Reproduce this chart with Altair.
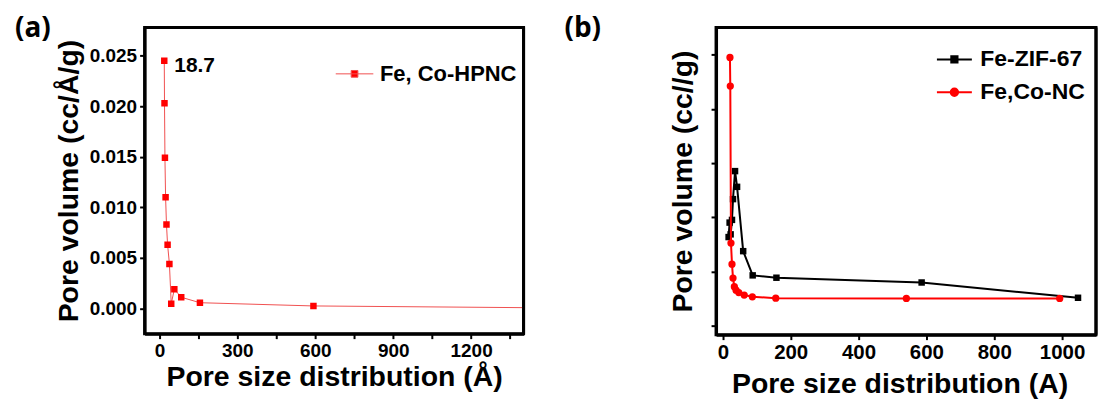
import altair as alt
import pandas as pd

FONT = "Liberation Sans"

# ---------------- data ----------------
panel_labels = ["(a)", "(b)"]

# panel (a): Fe, Co-HPNC
a_series = "Fe, Co-HPNC"
a_x = [18.7, 19.6, 21.3, 23.8, 27.2, 31.5, 38.5, 45.5, 57.5, 84, 156, 593, 1650]
a_y = [0.0245, 0.0203, 0.0149, 0.0110, 0.0083, 0.0063, 0.0044, 0.00046, 0.0019,
       0.0011, 0.00056, 0.00024, 0.00002]
a_label = ["18.7"] + [""] * 12
a_xticks = [0, 150, 300, 450, 600, 750, 900, 1050, 1200, 1350]
a_yticks = [0.0, 0.0025, 0.005, 0.0075, 0.01, 0.0125, 0.015, 0.0175, 0.02, 0.0225, 0.025, 0.0275]
a_xdom = [-57, 1402]
a_ydom = [-0.0025, 0.0278]

# panel (b)
b_series = ["Fe-ZIF-67", "Fe,Co-NC"]
zif_x = [17, 20, 23, 27, 30, 36, 42, 60, 88, 158, 586, 1047]
zif_y = [0.000340, 0.000420, 0.000355, 0.000435, 0.000550, 0.000705, 0.000618,
         0.000262, 0.000128, 0.000115, 0.0000886, 0.000004]
nc_x = [21, 22, 24, 27, 30, 34, 39, 47, 63, 87, 156, 541, 993]
nc_y = [0.001334, 0.001176, 0.000307, 0.000190, 0.000113, 0.000065, 0.000046,
        0.000033, 0.000019, 0.0000094, 0.000002, 0.0000005, 0.0000003]
b_xticks = [0, 100, 200, 300, 400, 500, 600, 700, 800, 900, 1000]
b_yticks = [-0.00015, 0.0, 0.00015, 0.0003, 0.00045, 0.0006, 0.00075, 0.0009,
            0.00105, 0.0012, 0.00135, 0.0015]
b_xdom = [-20, 1100]
b_ydom = [-0.0002, 0.0015]

TITLE_SIZE = 28.5
WA, HA = 380, 307
WB, HB = 381, 308


def frame_layer(xdom, ydom, sx, sy):
    # top and right edges of the box, placed through the panel's own scales
    edges = pd.DataFrame({"x": [xdom[0], xdom[1]], "x2": [xdom[1], xdom[1]],
                          "y": [ydom[1], ydom[0]], "y2": [ydom[1], ydom[1]]})
    return alt.Chart(edges).mark_rule(stroke="#000000", strokeWidth=3, opacity=1).encode(
        x=alt.X("x:Q", scale=sx), x2="x2:Q",
        y=alt.Y("y:Q", scale=sy), y2="y2:Q")


# ---------------- panel (a) ----------------
dfa = pd.DataFrame({"x": a_x, "y": a_y, "series": a_series, "label": a_label,
                    "i": range(len(a_x))})
sc_xa = alt.Scale(domain=a_xdom, nice=False, zero=False)
sc_ya = alt.Scale(domain=a_ydom, nice=False, zero=False)

xa = alt.X("x:Q", scale=sc_xa,
           axis=alt.Axis(values=a_xticks, format="d",
                         labelExpr="datum.value % 300 === 0 ? datum.label : ''",
                         title="Pore size distribution (Å)", titlePadding=2,
                         titleFontSize=TITLE_SIZE,
                         labelFontSize=19, labelPadding=3, labelFlush=False,
                         labelOverlap=False))
ya = alt.Y("y:Q", scale=sc_ya,
           axis=alt.Axis(values=a_yticks,
                         labelExpr="abs(round(datum.value/0.005)*0.005 - datum.value) < 1e-9 ? format(datum.value, '.3f') : ''",
                         title="Pore volume (cc/Å/g)", titlePadding=6,
                         titleFontSize=TITLE_SIZE,
                         labelFontSize=19, labelPadding=3, labelFlush=False,
                         labelOverlap=False))

sq_path_a = "M-1.57,0L1.57,0M-0.28,-0.28L0.28,-0.28L0.28,0.28L-0.28,0.28Z"
legend_a = alt.Legend(
    title=None, orient="none", legendX=198, legendY=34,
    symbolType=sq_path_a, symbolSize=576, symbolStrokeWidth=1,
    symbolFillColor="#ff0000", symbolOpacity=1,
    labelFont=FONT, labelFontSize=22, labelFontWeight="bold", labelColor="black",
    labelOffset=13, labelLimit=300, padding=0,
)

line_a = alt.Chart(dfa).mark_line(strokeWidth=1, clip=True).encode(
    x=xa, y=ya,
    color=alt.Color("series:N", scale=alt.Scale(domain=[a_series], range=["#f05050"]),
                    legend=legend_a),
    order="i:Q",
)
pts_a = alt.Chart(dfa).mark_square(size=42, color="#ff0000", opacity=1, clip=True).encode(
    x=xa, y=ya)
lab_a = alt.Chart(dfa).transform_filter("datum.label != ''").mark_text(
    align="left", baseline="middle", dx=10, dy=5, font=FONT, fontSize=21,
    fontWeight="bold", color="black").encode(x=xa, y=ya, text="label:N")
tag_a = alt.Chart(pd.DataFrame({"t": [panel_labels[0]]})).mark_text(
    align="left", baseline="top", font="Open Sans", fontSize=28, fontWeight="bold",
    color="black").encode(text="t:N", x=alt.value(-130), y=alt.value(-12))

panel_a = alt.layer(line_a, pts_a, lab_a, tag_a,
                    frame_layer(a_xdom, a_ydom, sc_xa, sc_ya)).properties(width=WA, height=HA)

# ---------------- panel (b) ----------------
dfz = pd.DataFrame({"x": zif_x, "y": zif_y, "series": b_series[0], "i": range(len(zif_x))})
dfn = pd.DataFrame({"x": nc_x, "y": nc_y, "series": b_series[1], "i": range(len(nc_x))})
sc_xb = alt.Scale(domain=b_xdom, nice=False, zero=False)
sc_yb = alt.Scale(domain=b_ydom, nice=False, zero=False)

xb = alt.X("x:Q", scale=sc_xb,
           axis=alt.Axis(values=b_xticks, format="d",
                         labelExpr="datum.value % 200 === 0 ? datum.label : ''",
                         title="Pore size distribution (A)", titlePadding=7,
                         titleFontSize=TITLE_SIZE, titleX=184,
                         labelFontSize=20.5, labelPadding=3, labelFlush=False,
                         labelOverlap=False))
yb = alt.Y("y:Q", scale=sc_yb,
           axis=alt.Axis(values=b_yticks,
                         labelExpr="abs(round(datum.value/0.0003)*0.0003 - datum.value) < 1e-10 ? format(datum.value, '.4f') : ''",
                         title="Pore volume (cc//g)", titlePadding=11,
                         titleFontSize=TITLE_SIZE,
                         labelFontSize=20.5, labelPadding=3, labelFlush=False,
                         labelOverlap=False))

sq_path_b = "M-1.46,0L1.46,0M-0.26,-0.26L0.26,-0.26L0.26,0.26L-0.26,0.26Z"
ci_path_b = "M-1.46,0L1.46,0M0.31,0A0.31,0.31 0 1,1 -0.31,0A0.31,0.31 0 1,1 0.31,0Z"


def legend_b(path, fill, y):
    return alt.Legend(
        title=None, orient="none", legendX=226, legendY=y,
        symbolType=path, symbolSize=576, symbolStrokeWidth=2,
        symbolFillColor=fill, symbolOpacity=1,
        labelFont=FONT, labelFontSize=23, labelFontWeight="bold", labelColor="black",
        labelOffset=13, labelLimit=300, padding=0,
    )


line_zif = alt.Chart(dfz).mark_line(strokeWidth=2).encode(
    x=xb, y=yb, order="i:Q",
    color=alt.Color("series:N", scale=alt.Scale(domain=[b_series[0]], range=["#000000"]),
                    legend=legend_b(sq_path_b, "#000000", 19)))
pts_zif = alt.Chart(dfz).mark_square(size=42, color="#000000", opacity=1).encode(x=xb, y=yb)
line_nc = alt.Chart(dfn).mark_line(strokeWidth=2).encode(
    x=xb, y=yb, order="i:Q",
    stroke=alt.Stroke("series:N", scale=alt.Scale(domain=[b_series[1]], range=["#ff0000"]),
                      legend=legend_b(ci_path_b, "#ff0000", 52)))
pts_nc = alt.Chart(dfn).mark_circle(size=53, color="#ff0000", opacity=1).encode(x=xb, y=yb)
tag_b = alt.Chart(pd.DataFrame({"t": [panel_labels[1]]})).mark_text(
    align="left", baseline="top", font="Open Sans", fontSize=28, fontWeight="bold",
    color="black").encode(text="t:N", x=alt.value(-152), y=alt.value(-12))

panel_b = alt.layer(line_zif, pts_zif, line_nc, pts_nc, tag_b,
                    frame_layer(b_xdom, b_ydom, sc_xb, sc_yb)).properties(width=WB, height=HB)

chart = alt.hconcat(panel_a, panel_b, spacing=36).resolve_scale(
    color="independent", stroke="independent", x="independent", y="independent"
).resolve_legend(color="independent", stroke="independent").properties(
    padding={"left": 13, "top": 13, "right": 0, "bottom": 0},
    background="white",
).configure_view(
    stroke="black", strokeWidth=3
).configure_axis(
    grid=False, domainColor="black", domainWidth=3, tickColor="black", tickWidth=2,
    tickSize=5, labelFont=FONT, labelFontWeight="bold", labelColor="black",
    titleFont=FONT, titleFontSize=TITLE_SIZE, titleFontWeight="bold", titleColor="black",
)

chart.save("out.html", embed_options={"renderer": "svg", "actions": False})
